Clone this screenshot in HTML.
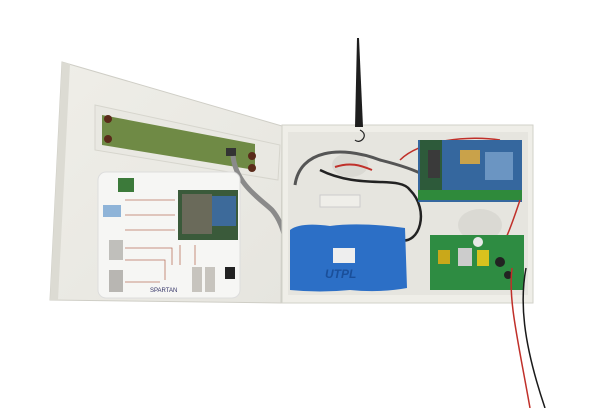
<!DOCTYPE html>
<html><head><style>
html,body{margin:0;padding:0;background:#fff;}
svg{display:block;}
</style></head><body>
<svg width="612" height="408" viewBox="0 0 612 408" xmlns="http://www.w3.org/2000/svg" font-family="Liberation Sans, sans-serif">
<defs>
<linearGradient id="door" x1="0" y1="0" x2="1" y2="1"><stop offset="0" stop-color="#efeee8"/><stop offset="1" stop-color="#e6e5df"/></linearGradient>
</defs>
<polygon points="62,62 282,126 281,303 50,300" fill="url(#door)" stroke="#cfcec6"/>
<polygon points="62,62 70,64 58,300 50,300" fill="#dcdbd3"/>
<polygon points="95,105 280,145 278,180 95,150" fill="#e9e8e2" stroke="#d6d5cd"/>
<polygon points="102,115 255,144 255,170 102,145" fill="#6f8a45"/>
<circle cx="108" cy="119" r="4" fill="#5a2a1a"/><circle cx="108" cy="139" r="4" fill="#5a2a1a"/>
<circle cx="252" cy="156" r="4" fill="#5a2a1a"/><circle cx="252" cy="168" r="4" fill="#5a2a1a"/>
<rect x="226" y="148" width="10" height="8" fill="#333"/>
<path d="M233,156 C236,185 262,200 272,210 C285,225 285,245 292,255" stroke="#8a8a8a" stroke-width="5" fill="none"/>
<rect x="98" y="172" width="142" height="126" rx="8" fill="#f6f6f4" stroke="#ddd"/>
<rect x="178" y="190" width="60" height="50" fill="#3a5a3a"/>
<rect x="182" y="194" width="30" height="40" fill="#6a6a5a"/>
<rect x="212" y="196" width="24" height="30" fill="#3d6a9a"/>
<rect x="118" y="178" width="16" height="14" fill="#3c7a3a"/>
<rect x="103" y="205" width="18" height="12" fill="#8fb4d8"/>
<rect x="109" y="240" width="14" height="20" fill="#c0bfbb"/>
<rect x="109" y="270" width="14" height="22" fill="#b8b6b2"/>
<rect x="192" y="267" width="10" height="25" fill="#c7c4be"/>
<rect x="205" y="267" width="10" height="25" fill="#c7c4be"/>
<rect x="225" y="267" width="10" height="12" fill="#222"/>
<g stroke="#b9735e" stroke-width="0.8" fill="none">
<path d="M125,200 H175"/><path d="M125,215 H175"/><path d="M125,230 H175"/><path d="M125,248 H172 V265"/><path d="M125,260 H165 V280"/><path d="M125,282 H160"/><path d="M180,245 V265"/><path d="M195,245 V265"/>
</g>
<text x="150" y="292" font-size="6" fill="#336">SPARTAN</text>
<rect x="282" y="125" width="251" height="178" fill="#efeee8" stroke="#d2d1c9"/>
<rect x="288" y="132" width="240" height="163" fill="#e6e5df"/>
<ellipse cx="350" cy="165" rx="18" ry="12" fill="#dad9d3"/>
<ellipse cx="480" cy="225" rx="22" ry="16" fill="#dad9d3"/>
<rect x="320" y="195" width="40" height="12" fill="#efeee9" stroke="#ccc"/>
<polygon points="357,38 359,38 363,127 355,127" fill="#1e1e1e"/>
<path d="M295,185 C300,150 340,145 380,160 C420,170 440,180 440,195" stroke="#555" stroke-width="3" fill="none"/>
<path d="M320,170 C360,190 400,175 410,190 C430,210 420,245 400,240" stroke="#222" stroke-width="2.5" fill="none"/>
<path d="M335,167 C350,162 360,165 372,170" stroke="#c0302a" stroke-width="2" fill="none"/>
<path d="M400,160 C420,140 470,135 500,140" stroke="#c0302a" stroke-width="1.5" fill="none"/>
<path d="M360,130 C370,135 360,145 355,140" stroke="#222" stroke-width="1.2" fill="none"/>
<path d="M290,230 Q300,222 330,226 Q360,222 405,228 L407,288 Q380,293 350,290 Q320,293 290,290 Z" fill="#2c6fc6"/>
<rect x="333" y="248" width="22" height="15" fill="#eee"/>
<text x="325" y="278" font-size="12" font-weight="bold" font-style="italic" fill="#1a4f9a">UTPL</text>
<rect x="418" y="140" width="104" height="62" fill="#35679e"/>
<rect x="420" y="140" width="22" height="50" fill="#2d5a3a"/>
<rect x="428" y="150" width="12" height="28" fill="#3a3a3a"/>
<rect x="460" y="150" width="20" height="14" fill="#c9a24a"/>
<rect x="485" y="152" width="28" height="28" fill="#6b95c2"/>
<rect x="418" y="190" width="104" height="10" fill="#2f8a3b"/>
<path d="M520,200 C515,215 510,230 505,240" stroke="#c0302a" stroke-width="1.5" fill="none"/>
<rect x="430" y="235" width="94" height="55" fill="#2e8c42"/>
<rect x="438" y="250" width="12" height="14" fill="#c9a81a"/>
<rect x="458" y="248" width="14" height="18" fill="#ccc"/>
<rect x="477" y="250" width="12" height="16" fill="#d8c21e"/>
<circle cx="478" cy="242" r="5" fill="#e8e8e8"/>
<circle cx="500" cy="262" r="5" fill="#222"/>
<circle cx="508" cy="275" r="4" fill="#222"/>
<path d="M512,268 C508,300 518,340 530,408" stroke="#c0302a" stroke-width="1.5" fill="none"/>
<path d="M526,268 C520,300 522,340 545,408" stroke="#1a1a1a" stroke-width="1.5" fill="none"/>
</svg>
</body></html>
